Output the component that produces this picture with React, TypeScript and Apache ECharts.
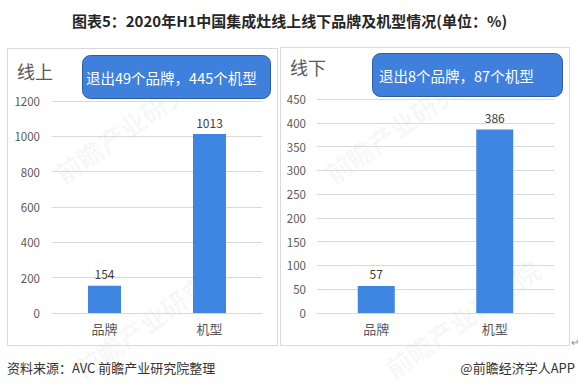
import React, { useEffect, useRef } from "react";
import * as echarts from "echarts";

const categories = ["品牌", "机型"];
const onlineValues = [154, 1013];
const offlineValues = [57, 386];
const onlineTicks = { min: 0, max: 1200, interval: 200 };
const offlineTicks = { min: 0, max: 450, interval: 50 };
const titleText = "图表5：2020年H1中国集成灶线上线下品牌及机型情况(单位：%)";
const onlineLabel = "线上";
const offlineLabel = "线下";
const onlineNote = "退出49个品牌，445个机型";
const offlineNote = "退出8个品牌，87个机型";
const sourceText = "资料来源：AVC 前瞻产业研究院整理";
const brandText = "@前瞻经济学人APP";

const FONT = '"Noto Sans CJK SC", "Noto Sans", sans-serif';
const BAR = "#3f86e2";
const GRID = "#d9d9d9";
const AXIS_TXT = "#595959";

export default function App() {
  const ref = useRef<HTMLDivElement>(null);
  useEffect(() => {
    if (!ref.current) return;
    const chart = echarts.init(ref.current, null, { renderer: "svg" });
    const mkX = (idx: number) => ({
      type: "category",
      gridIndex: idx,
      data: categories,
      axisLine: { lineStyle: { color: GRID } },
      axisTick: { show: false },
      axisLabel: { color: AXIS_TXT, fontSize: 13, fontFamily: FONT, margin: 9 },
    });
    const mkY = (idx: number, t: { min: number; max: number; interval: number }, margin: number) => ({
      type: "value",
      gridIndex: idx,
      min: t.min,
      max: t.max,
      interval: t.interval,
      axisLine: { show: false },
      axisTick: { show: false },
      axisLabel: {
        color: AXIS_TXT,
        fontSize: 11.5,
        fontFamily: FONT,
        margin,
        formatter: (v: number) => String(v),
      },
      splitLine: { lineStyle: { color: GRID } },
    });
    const barSeries = (idx: number, data: number[], w: number) => ({
      type: "bar",
      xAxisIndex: idx,
      yAxisIndex: idx,
      data,
      barWidth: w,
      itemStyle: { color: BAR },
      label: {
        show: true,
        position: "top",
        distance: 6,
        color: "#404040",
        fontSize: 12,
        fontFamily: FONT,
      },
    });
    const watermark = (x: number, y: number, size: number) => ({
      type: "text",
      x,
      y,
      rotation: (35 * Math.PI) / 180,
      silent: true,
      style: {
        text: "前瞻产业研究院",
        fill: "rgba(0,0,0,0.045)",
        font: `bold ${size}px ${FONT}`,
      },
    });
    chart.setOption({
      animation: false,
      backgroundColor: "#ffffff",
      grid: [
        { left: 52, right: 317, top: 101, bottom: 78 },
        { left: 317, right: 25, top: 99, bottom: 78 },
      ],
      xAxis: [mkX(0), mkX(1)],
      yAxis: [mkY(0, onlineTicks, 12), mkY(1, offlineTicks, 11)],
      series: [barSeries(0, onlineValues, 33), barSeries(1, offlineValues, 37)],
      graphic: [
        watermark(50, 165, 26),
        watermark(70, 360, 26),
        watermark(320, 165, 26),
        watermark(380, 360, 26),
        {
          type: "rect",
          shape: { x: 7.5, y: 48.5, width: 270, height: 297 },
          style: { fill: "none", stroke: GRID, lineWidth: 1 },
        },
        {
          type: "rect",
          shape: { x: 280.5, y: 47.5, width: 289, height: 298 },
          style: { fill: "none", stroke: GRID, lineWidth: 1 },
        },
        {
          type: "text",
          x: 289.5,
          y: 20,
          style: {
            text: titleText,
            fill: "#262626",
            font: `bold 15px ${FONT}`,
            textAlign: "center",
            textVerticalAlign: "middle",
          },
        },
        {
          type: "text",
          x: 17,
          y: 71,
          style: { text: onlineLabel, fill: AXIS_TXT, font: `18px ${FONT}`, textVerticalAlign: "middle" },
        },
        {
          type: "text",
          x: 290,
          y: 67,
          style: { text: offlineLabel, fill: AXIS_TXT, font: `18px ${FONT}`, textVerticalAlign: "middle" },
        },
        {
          type: "rect",
          shape: { x: 82.5, y: 55.5, width: 188, height: 43, r: 8 },
          style: { fill: "#3f80dd", stroke: "#2f5e9e", lineWidth: 1 },
        },
        {
          type: "text",
          x: 86,
          y: 77,
          style: { text: onlineNote, fill: "#ffffff", font: `14.5px ${FONT}`, textVerticalAlign: "middle" },
        },
        {
          type: "rect",
          shape: { x: 372.5, y: 53.5, width: 190, height: 43, r: 8 },
          style: { fill: "#3f80dd", stroke: "#2f5e9e", lineWidth: 1 },
        },
        {
          type: "text",
          x: 379,
          y: 75,
          style: { text: offlineNote, fill: "#ffffff", font: `14.5px ${FONT}`, textVerticalAlign: "middle" },
        },
        {
          type: "text",
          x: 7,
          y: 367,
          style: { text: sourceText, fill: "#333333", font: `13px ${FONT}`, textVerticalAlign: "middle" },
        },
        {
          type: "text",
          x: 575,
          y: 367,
          style: {
            text: brandText,
            fill: "#333333",
            font: `13px ${FONT}`,
            textAlign: "right",
            textVerticalAlign: "middle",
          },
        },
        {
          type: "text",
          x: 571,
          y: 341,
          style: { text: "↵", fill: "#888888", font: `10px ${FONT}`, textVerticalAlign: "middle" },
        },
      ],
    });
    return () => chart.dispose();
  }, []);
  return (
    <div
      ref={ref}
      style={{ position: "fixed", left: 0, top: 0, width: 579, height: 391, background: "#fff" }}
    />
  );
}
